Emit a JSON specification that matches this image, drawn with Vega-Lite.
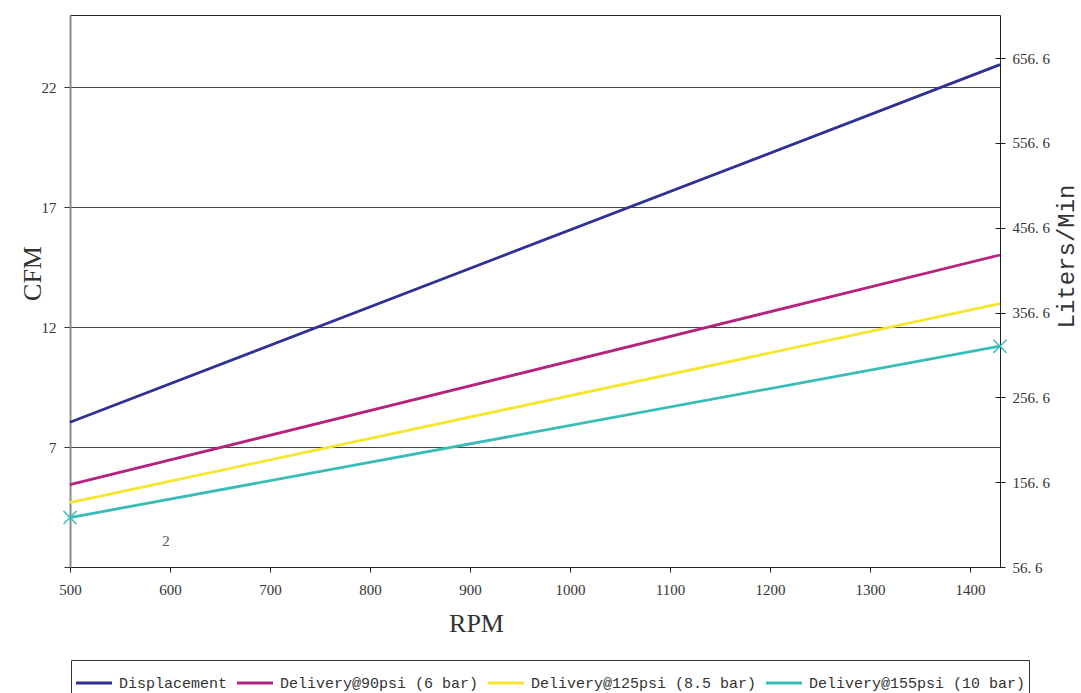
{
  "$schema": "https://vega.github.io/schema/vega-lite/v6.json",
  "autosize": {"type": "none"},
  "width": 930,
  "height": 552,
  "padding": {"left": 70, "top": 15, "right": 81, "bottom": 126},
  "background": "white",
  "config": {
    "view": {"stroke": "#222", "strokeWidth": 1},
    "font": "Liberation Serif"
  },
  "layer": [
    {
      "encoding": {
        "x": {
          "field": "rpm", "type": "quantitative",
          "scale": {"domain": [500, 1430], "nice": false, "zero": false},
          "axis": {
            "title": "RPM", "values": [500, 600, 700, 800, 900, 1000, 1100, 1200, 1300, 1400],
            "format": "d", "labelFlush": false,
            "grid": false, "domainColor": "#222", "tickColor": "#222", "tickSize": 5,
            "labelFont": "Liberation Serif", "labelFontSize": 15, "labelColor": "#333", "labelPadding": 10,
            "titleFont": "Liberation Serif", "titleFontSize": 26, "titleFontWeight": "normal", "titleColor": "#333",
            "titleX": 406, "titleY": 56, "titleBaseline": "middle", "titleAlign": "center"
          }
        },
        "y": {
          "field": "cfm", "type": "quantitative",
          "scale": {"domain": [2, 25], "nice": false, "zero": false},
          "axis": {
            "title": "CFM", "values": [2, 7, 12, 17, 22],
            "labelExpr": "datum.value == 2 ? '' : datum.label",
            "grid": true, "gridColor": "#444", "gridWidth": 1,
            "domainColor": "#8a8a8a", "domainWidth": 2, "tickColor": "#333", "tickSize": 6,
            "labelFont": "Liberation Serif", "labelFontSize": 15, "labelColor": "#333", "labelPadding": 8,
            "titleFont": "Liberation Serif", "titleFontSize": 26, "titleFontWeight": "normal", "titleColor": "#333",
            "titleX": -38, "titleY": 258, "titleAngle": 270, "titleBaseline": "middle", "titleAlign": "center"
          }
        }
      },
      "layer": [
        {
          "data": {
            "values": [
              {"series": "Displacement", "rpm": 500, "cfm": 8.03},
              {"series": "Displacement", "rpm": 1430, "cfm": 22.93},
              {"series": "Delivery@90psi (6 bar)", "rpm": 500, "cfm": 5.43},
              {"series": "Delivery@90psi (6 bar)", "rpm": 1430, "cfm": 15.0},
              {"series": "Delivery@125psi (8.5 bar)", "rpm": 500, "cfm": 4.68},
              {"series": "Delivery@125psi (8.5 bar)", "rpm": 1430, "cfm": 12.97},
              {"series": "Delivery@155psi (10 bar)", "rpm": 500, "cfm": 4.06},
              {"series": "Delivery@155psi (10 bar)", "rpm": 1430, "cfm": 11.2}
            ]
          },
          "layer": [
            {
              "mark": {"type": "line", "strokeWidth": 2.8},
              "encoding": {
                "color": {
                  "field": "series", "type": "nominal",
                  "scale": {
                    "domain": ["Displacement", "Delivery@90psi (6 bar)", "Delivery@125psi (8.5 bar)", "Delivery@155psi (10 bar)"],
                    "range": ["#2E3192", "#B3237F", "#F7E52E", "#37BDB6"]
                  },
                  "legend": {
                    "title": null, "orient": "none", "legendX": 1, "legendY": 645,
                    "direction": "horizontal", "columns": 4,
                    "strokeColor": "#333", "padding": 3,
                    "symbolType": "stroke", "symbolSize": 1300, "symbolStrokeWidth": 3,
                    "labelFont": "Liberation Mono", "labelFontSize": 15, "labelColor": "#333",
                    "labelOffset": 5, "columnPadding": 2, "labelLimit": 400
                  }
                }
              }
            },
            {
              "transform": [{"filter": "datum.series == 'Delivery@155psi (10 bar)'"}],
              "mark": {"type": "point", "shape": "M-1,-1L1,1M-1,1L1,-1", "size": 169, "filled": false, "stroke": "#37BDB6", "strokeWidth": 1.5, "opacity": 1}
            }
          ]
        },
        {
          "data": {"values": [{"rpm": 596, "cfm": 3.07, "label": "2"}]},
          "mark": {"type": "text", "font": "Liberation Serif", "fontSize": 15, "color": "#555", "baseline": "middle", "align": "center"},
          "encoding": {"text": {"field": "label"}}
        }
      ]
    },
    {
      "data": {"values": [{"lpm": 56.6}, {"lpm": 707.5}]},
      "mark": {"type": "rule", "opacity": 0},
      "encoding": {
        "y": {
          "field": "lpm", "type": "quantitative",
          "scale": {"domain": [56.6, 707.5], "nice": false, "zero": false},
          "axis": {
            "orient": "right", "title": "Liters/Min",
            "values": [56.6, 156.6, 256.6, 356.6, 456.6, 556.6, 656.6],
            "labelExpr": "replace(format(datum.value, '.1f'), '.', '. ')",
            "grid": false, "domain": false, "offset": -5, "tickSize": 10, "tickColor": "#222",
            "labelFont": "Liberation Serif", "labelFontSize": 15, "labelColor": "#333", "labelPadding": 7,
            "titleFont": "Liberation Mono", "titleFontSize": 24, "titleFontWeight": "normal", "titleColor": "#333",
            "titleX": 71, "titleY": 241, "titleAngle": 270, "titleBaseline": "middle", "titleAlign": "center"
          }
        }
      }
    }
  ],
  "resolve": {"scale": {"y": "independent"}}
}
